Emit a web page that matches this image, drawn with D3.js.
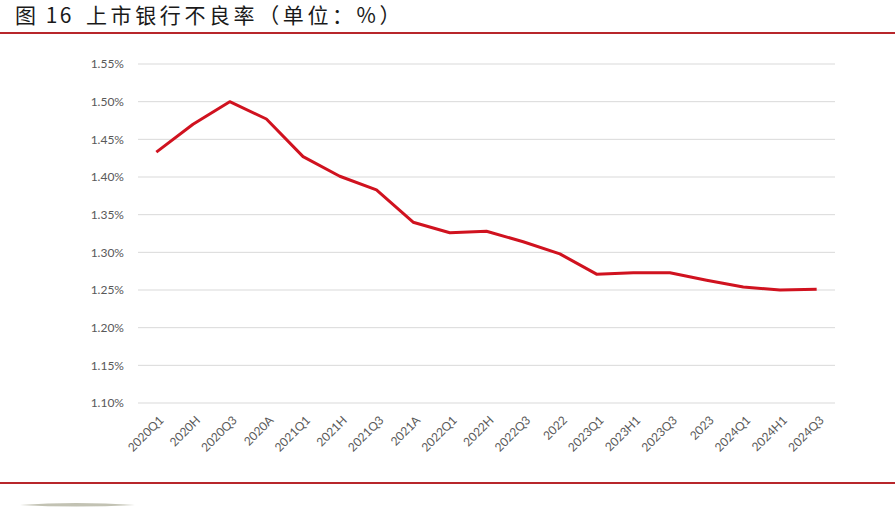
<!DOCTYPE html>
<html><head><meta charset="utf-8">
<script src="https://cdn.jsdelivr.net/npm/d3@7"></script>
<style>body{margin:0;background:#fff;}svg{display:block;}</style>
</head><body>
<svg id="c" width="895" height="516"></svg>
<script>
const categories = ["2020Q1","2020H","2020Q3","2020A","2021Q1","2021H","2021Q3","2021A","2022Q1","2022H","2022Q3","2022","2023Q1","2023H1","2023Q3","2023","2024Q1","2024H1","2024Q3"];
const nplRatio = [1.433,1.470,1.500,1.477,1.427,1.401,1.383,1.340,1.326,1.328,1.314,1.298,1.271,1.273,1.273,1.263,1.254,1.250,1.251];
const yTicks = [1.10,1.15,1.20,1.25,1.30,1.35,1.40,1.45,1.50,1.55];
const titleParts = ["图 16", "上市银行不良率（单位：%）"];

const svg = d3.select("#c");
const font = "'Noto Sans CJK SC','Microsoft YaHei',sans-serif";

const t = svg.append("text").attr("x", 15).attr("y", 23).attr("font-family", font)
  .attr("font-size", 21).attr("font-weight", 400)
  .attr("fill", "#1a1a1a");
t.append("tspan").attr("letter-spacing", 2.5).text(titleParts[0]);
t.append("tspan").attr("x", 86).attr("letter-spacing", 3.6).text(titleParts[1]);

svg.append("rect").attr("x", 0).attr("y", 32).attr("width", 895).attr("height", 2).attr("fill", "#b8262b");
svg.append("rect").attr("x", 0).attr("y", 482).attr("width", 895).attr("height", 2).attr("fill", "#b8262b");
svg.append("path").attr("d", "M20,505 Q75,501 135,505 Q75,508 20,505Z").attr("fill", "#9a9a80").attr("opacity", 0.6);

const x = d3.scaleBand().domain(categories).range([138, 835]);
const y = d3.scaleLinear().domain([1.10, 1.55]).range([403, 64]);

const grid = svg.append("g");
grid.selectAll("line").data(yTicks).join("line")
  .attr("x1", 138).attr("x2", 835).attr("y1", d => y(d)).attr("y2", d => y(d))
  .attr("stroke", "#d9d9d9").attr("stroke-width", 1);

const yAxis = svg.append("g").attr("transform", "translate(133,0)")
  .call(d3.axisLeft(y).tickValues(yTicks).tickSize(0).tickFormat(d => d.toFixed(2) + "%"));
yAxis.select(".domain").remove();
yAxis.selectAll("text").attr("font-family", "Lato,sans-serif").attr("font-size", 12).attr("fill", "#595959").attr("dx", -6);

const xAxis = svg.append("g").attr("transform", "translate(0,403)")
  .call(d3.axisBottom(x).tickSize(0));
xAxis.select(".domain").remove();
xAxis.selectAll("text").attr("font-family", "Lato,sans-serif").attr("font-size", 12).attr("fill", "#595959")
  .attr("text-anchor", "end").attr("transform", "translate(5,15) rotate(-45)").attr("dy", "0.35em").attr("y", 0);

const line = d3.line().x((d, i) => x(categories[i]) + x.bandwidth() / 2).y(d => y(d));
svg.append("path").datum(nplRatio).attr("d", line).attr("fill", "none")
  .attr("stroke", "#d0121f").attr("stroke-width", 3).attr("stroke-linejoin", "round");
</script>
</body></html>
